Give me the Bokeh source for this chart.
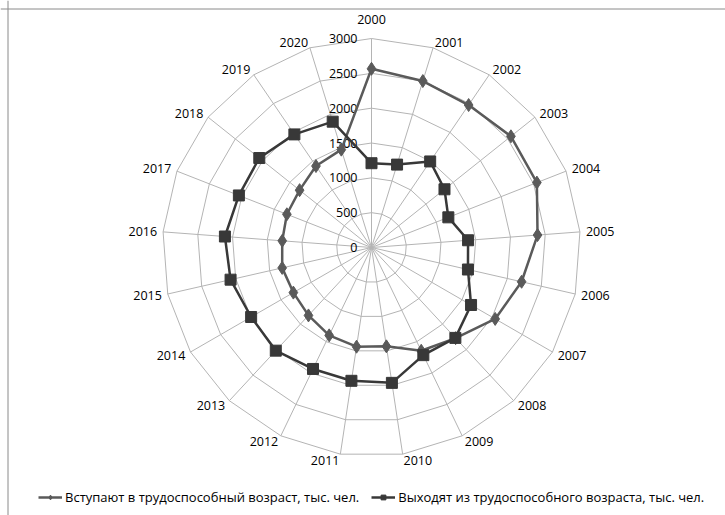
import numpy as np
from bokeh.plotting import figure
from bokeh.models import Legend, LegendItem, Span, ColumnDataSource, Range1d
from bokeh.core.properties import value
from bokeh.embed import file_html
from bokeh.resources import INLINE

# ---- data ----
years = [str(y) for y in range(2000, 2021)]
enter_working_age = [2565, 2500, 2475, 2560, 2550, 2390, 2210, 2050, 1775, 1645, 1435, 1440, 1400, 1330, 1295, 1315, 1285, 1305, 1320, 1415, 1470]
leave_working_age = [1210, 1245, 1495, 1340, 1185, 1390, 1420, 1650, 1770, 1715, 1965, 1935, 1935, 2020, 1995, 2075, 2110, 2045, 2060, 1965, 1890]
radial_ticks = [0, 500, 1000, 1500, 2000, 2500, 3000]
series_names = ["Вступают в трудоспособный возраст, тыс. чел.",
                "Выходят из трудоспособного возраста, тыс. чел."]

# ---- geometry ----
W, H = 725, 515
cx, cy = 371, 247          # centre in figure pixels (from top-left)
R_px = 209.0
rmax = radial_ticks[-1]
s = rmax / R_px            # data units per pixel

n = len(years)
ang = np.arange(n) * 2 * np.pi / n   # clockwise from top
sn, cs = np.sin(ang), np.cos(ang)

def xy(vals):
    v = np.asarray(vals, dtype=float)
    return v * sn, v * cs

FONT = value("Open Sans")

p = figure(width=W, height=H, output_backend="svg", toolbar_location=None,
           x_range=Range1d(-cx * s, (W - cx) * s), y_range=Range1d(-(H - cy) * s, cy * s),
           min_border=0, outline_line_color=None)
p.axis.visible = False
p.grid.visible = False
p.background_fill_color = "white"
p.border_fill_color = "white"

grid_col = "#b4b4b4"
# rings
for t in radial_ticks[1:]:
    gx, gy = xy([t] * n)
    p.line(np.append(gx, gx[0]), np.append(gy, gy[0]), line_color=grid_col, line_width=1)
# spokes
ox, oy = xy([rmax] * n)
p.multi_line([[0, x] for x in ox], [[0, y] for y in oy], line_color=grid_col, line_width=1)

# radial tick labels
p.text(x=[-14 * s] * len(radial_ticks), y=radial_ticks, text=[str(t) for t in radial_ticks],
       text_align="right", text_baseline="middle", text_font=FONT,
       text_font_size="12.5px", text_color="#000000")

# category labels
lab_r = np.full(n, rmax + 6 * s)
lab_r[0] = rmax + 19 * s
aligns = ["left" if v > 0.05 else ("right" if v < -0.05 else "center") for v in sn]
src = ColumnDataSource(dict(x=lab_r * sn, y=lab_r * cs, t=years, a=aligns))
p.text(x="x", y="y", text="t", text_align="a", text_baseline="middle", source=src,
       text_font=FONT, text_font_size="12.5px", text_color="#000000")

# series
c1, c2 = "#5a5a5a", "#383838"
x1, y1 = xy(enter_working_age)
x2, y2 = xy(leave_working_age)
l1 = p.line(np.append(x1, x1[0]), np.append(y1, y1[0]), line_color=c1, line_width=2.5)
m1 = p.scatter(x1, y1, marker="diamond", size=13, fill_color=c1, line_color=c1)
l2 = p.line(np.append(x2, x2[0]), np.append(y2, y2[0]), line_color=c2, line_width=2.5)
m2 = p.scatter(x2, y2, marker="square", size=11, fill_color=c2, line_color=c2)

# frame lines (left and top)
p.add_layout(Span(location=(-cx + 7.5) * s, dimension="height", line_color="#8a8a8a", line_width=1))
p.add_layout(Span(location=(cy - 8.5) * s, dimension="width", line_color="#8a8a8a", line_width=1))

legend = Legend(items=[LegendItem(label=series_names[0], renderers=[l1, m1]),
                       LegendItem(label=series_names[1], renderers=[l2, m2])],
                orientation="horizontal", location=(38, 9),
                border_line_color=None, background_fill_alpha=0,
                padding=0, margin=0, spacing=12, glyph_width=24, glyph_height=12,
                label_standoff=3, label_text_font="Open Sans", label_text_font_size="13px",
                label_text_color="#000000")
p.add_layout(legend)

open("out.html", "w").write(file_html(p, INLINE))
